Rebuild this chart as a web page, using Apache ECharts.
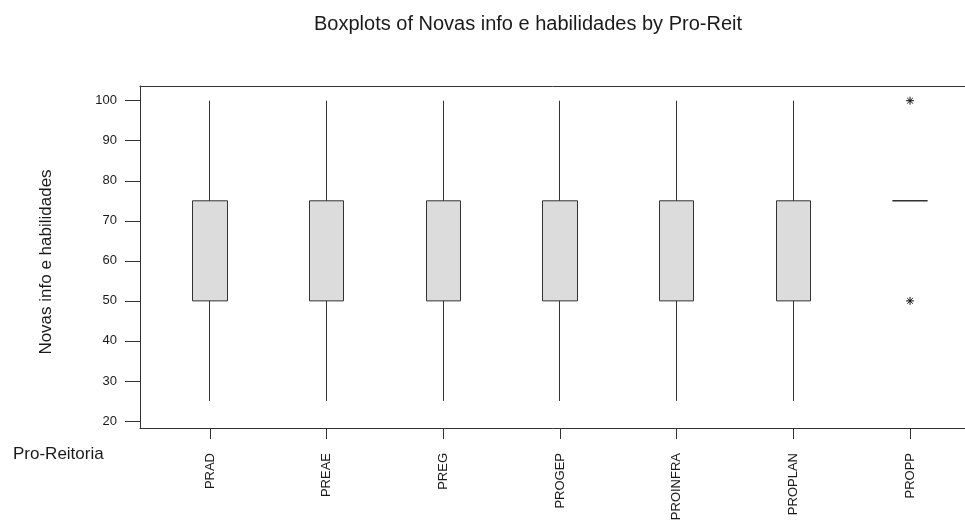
<!DOCTYPE html>
<html>
<head>
<meta charset="utf-8">
<script src="https://cdn.jsdelivr.net/npm/echarts@6/dist/echarts.min.js"></script>
<style>
html,body{margin:0;padding:0;background:#fff;}
#chart{width:965px;height:520px;}
</style>
</head>
<body>
<div id="chart"></div>
<script>
// ---- data ----
var categories = ['PRAD', 'PREAE', 'PREG', 'PROGEP', 'PROINFRA', 'PROPLAN', 'PROPP'];
var whiskerLow  = [25, 25, 25, 25, 25, 25, 75];
var q1          = [50, 50, 50, 50, 50, 50, 75];
var median      = [50, 50, 50, 50, 50, 50, 75];
var q3          = [75, 75, 75, 75, 75, 75, 75];
var whiskerHigh = [100, 100, 100, 100, 100, 100, 75];
var outlierCategory = ['PROPP', 'PROPP'];
var outlierValues   = [100, 50];
var yTicks = [20, 30, 40, 50, 60, 70, 80, 90, 100];

var titleText = 'Boxplots of Novas info e habilidades by Pro-Reit';
var yName = 'Novas info e habilidades';
var xName = 'Pro-Reitoria';

// ---- build series data ----
var positions = categories.map(function (c, i) { return i + 1; });
var boxData = categories.map(function (c, i) {
  // [x, open(Q1), close(Q3), low, high]
  return [positions[i], q1[i], q3[i], whiskerLow[i], whiskerHigh[i]];
});
var outlierData = outlierValues.map(function (v, i) {
  return [categories.indexOf(outlierCategory[i]) + 1, v];
});

var font = 'Liberation Sans, Arial, sans-serif';
var txt = '#1a1a1a';
var lineCol = '#333';

var chart = echarts.init(document.getElementById('chart'), null, {renderer: 'canvas'});
chart.setOption({
  animation: false,
  backgroundColor: '#fff',
  title: [
    {text: titleText, left: 309, top: 9,
     textStyle: {fontFamily: font, fontSize: 20, fontWeight: 'normal', color: txt}},
    {text: xName, left: 8, top: 441,
     textStyle: {fontFamily: font, fontSize: 17, fontWeight: 'normal', color: txt}}
  ],
  grid: {left: 140, right: 0, top: 86, bottom: 92, containLabel: false, outerBoundsMode: 'none'},
  xAxis: [
    {
      type: 'value', min: 0.4, max: 7.471, position: 'bottom',
      splitLine: {show: false},
      axisLine: {show: true, lineStyle: {color: lineCol, width: 1}},
      axisTick: {show: true, length: 11, customValues: positions, lineStyle: {color: lineCol}},
      axisLabel: {
        show: true, rotate: 90, margin: 25, customValues: positions,
        fontFamily: font, fontSize: 13, color: txt,
        formatter: function (v) { return categories[Math.round(v) - 1] || ''; }
      }
    },
    {
      type: 'value', min: 0.4, max: 7.471, position: 'top',
      splitLine: {show: false},
      axisLine: {show: true, lineStyle: {color: lineCol, width: 1}},
      axisTick: {show: false}, axisLabel: {show: false}
    }
  ],
  yAxis: {
    type: 'value', min: 18.25, max: 103.67,
    name: yName, nameLocation: 'middle', nameGap: 85,
    nameTextStyle: {fontFamily: font, fontSize: 17, color: txt, padding: [0, 10, 0, 0]},
    splitLine: {show: false},
    axisLine: {show: true, lineStyle: {color: lineCol, width: 1}},
    axisTick: {show: true, length: 15, customValues: yTicks, lineStyle: {color: lineCol}},
    axisLabel: {show: true, margin: 23, customValues: yTicks, fontFamily: font, fontSize: 13, color: txt}
  },
  series: [
    {
      type: 'candlestick',
      xAxisIndex: 0,
      barWidth: 35,
      data: boxData,
      itemStyle: {
        color: '#dcdcdc', color0: '#dcdcdc',
        borderColor: lineCol, borderColor0: lineCol, borderColorDoji: '#222',
        borderWidth: 1
      },
      emphasis: {disabled: true}
    },
    {
      type: 'scatter',
      xAxisIndex: 0,
      data: outlierData,
      symbol: 'path://M0,5L10,5M5,0L5,10M1.5,1.5L8.5,8.5M8.5,1.5L1.5,8.5',
      symbolSize: 8,
      itemStyle: {color: 'none', borderColor: '#111', borderWidth: 1, opacity: 1},
      emphasis: {disabled: true}
    }
  ]
});
</script>
</body>
</html>
